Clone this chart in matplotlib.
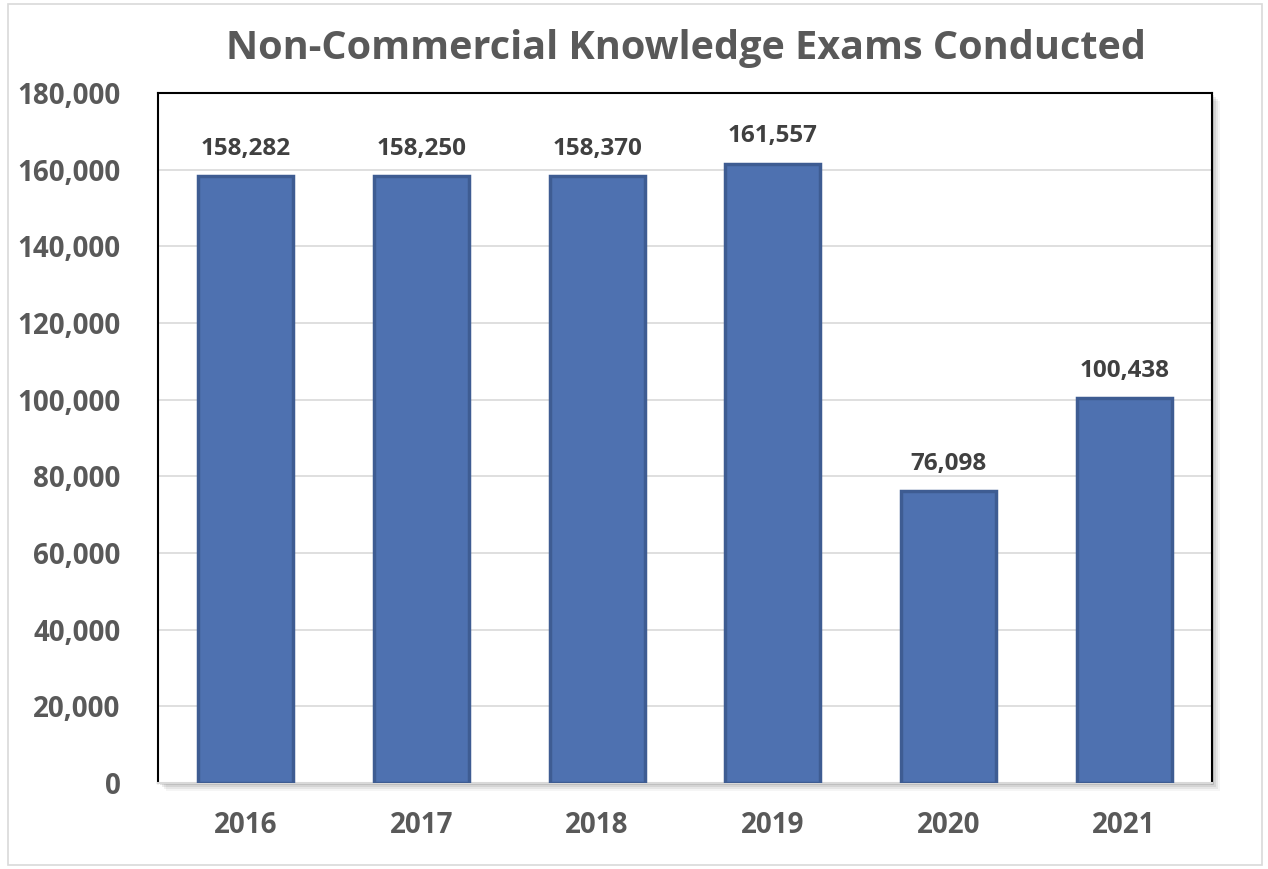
import matplotlib.pyplot as plt
import matplotlib.patches as patches
from matplotlib.ticker import FuncFormatter

years = ["2016", "2017", "2018", "2019", "2020", "2021"]
exams = [158282, 158250, 158370, 161557, 76098, 100438]
y_ticks = [0, 20000, 40000, 60000, 80000, 100000, 120000, 140000, 160000, 180000]

plt.rcParams['font.family'] = ['Open Sans', 'DejaVu Sans']

W, H = 1268, 869
fig = plt.figure(figsize=(W / 100, H / 100), dpi=100)

# light frame around the whole chart
fig.patches.append(patches.Rectangle((8 / W, 4 / H), 1254 / W, 861 / H,
                                     transform=fig.transFigure, fill=False,
                                     edgecolor='#D9D9D9', linewidth=1.2, zorder=0))

left, bottom, width, height = 158 / W, 86 / H, 1054 / W, 690 / H

# soft shadow behind plot area
for i, a in enumerate([0.10, 0.08, 0.06, 0.04]):
    off = (2 + i * 2)
    fig.patches.append(patches.Rectangle((left + off / W, bottom - off / H), width, height,
                                         transform=fig.transFigure, facecolor='black',
                                         edgecolor='none', alpha=a, zorder=0))

ax = fig.add_axes([left, bottom, width, height], zorder=2)
ax.set_facecolor('white')

x = range(len(years))
ax.bar(x, exams, width=0.54, color='#4E71B0', edgecolor='#3E5C92', linewidth=2.5, zorder=3)

for xi, v in zip(x, exams):
    ax.annotate(f"{v:,}", (xi, v), xytext=(0, 11), textcoords='offset points',
                ha='center', va='bottom', fontsize=17.5, fontweight='bold', color='#404040')

ax.set_xlim(-0.5, len(years) - 0.5)
ax.set_ylim(0, 180000)
ax.set_yticks(y_ticks)
ax.yaxis.set_major_formatter(FuncFormatter(lambda v, p: f"{int(v):,}"))
ax.set_xticks(list(x))
ax.set_xticklabels(years)
ax.grid(axis='y', color='#D9D9D9', linewidth=1.2, zorder=0)
ax.set_axisbelow(True)

ax.tick_params(axis='both', length=0, labelsize=20, colors='#595959')
ax.tick_params(axis='y', pad=27)
ax.tick_params(axis='x', pad=20)
for lab in ax.get_xticklabels() + ax.get_yticklabels():
    lab.set_fontweight('bold')

for s in ['left', 'top', 'right']:
    ax.spines[s].set_color('black')
    ax.spines[s].set_linewidth(1.5)
ax.spines['bottom'].set_color('#D9D9D9')
ax.spines['bottom'].set_linewidth(1.5)

fig.text(686 / W, 1 - 48 / H, "Non-Commercial Knowledge Exams Conducted",
         ha='center', va='center', fontsize=28.5, fontweight='bold', color='#595959')

fig.savefig('out.png', dpi=100, facecolor='white')
